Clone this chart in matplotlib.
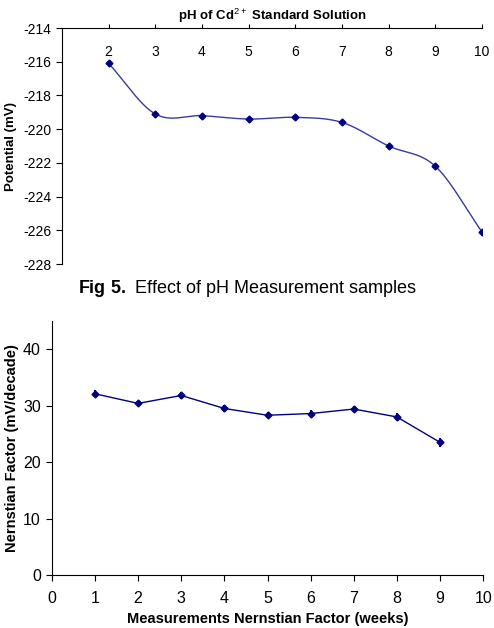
import numpy as np
import matplotlib
matplotlib.use("Agg")
import matplotlib.pyplot as plt

plt.rcParams['font.family'] = ['Liberation Sans', 'DejaVu Sans']
plt.rcParams['mathtext.fontset'] = 'custom'
plt.rcParams['mathtext.rm'] = 'Liberation Sans'
plt.rcParams['mathtext.bf'] = 'Liberation Sans:bold'
plt.rcParams['axes.unicode_minus'] = False

# pH data (top chart)
ph = [2, 3, 4, 5, 6, 7, 8, 9, 10]
potential = [-216.1, -219.1, -219.2, -219.4, -219.3, -219.6, -221.0, -222.2, -226.1]

# Nernstian factor over weeks (bottom chart)
weeks = [1, 2, 3, 4, 5, 6, 7, 8, 9]
nernst = [32.1, 30.4, 31.8, 29.5, 28.3, 28.6, 29.4, 28.0, 23.5]
nernst_err = [0.6, 0.5, 0.6, 0.6, 0.5, 0.6, 0.6, 0.7, 0.8]

navy = '#000080'
line_blue = '#3a3aa0'


# Excel-like smoothed line (Catmull-Rom through the points)
def smooth_line(x, y, n=30):
    x = np.asarray(x, float)
    y = np.asarray(y, float)
    px = np.concatenate([[2 * x[0] - x[1]], x, [2 * x[-1] - x[-2]]])
    py = np.concatenate([[2 * y[0] - y[1]], y, [2 * y[-1] - y[-2]]])
    xs, ys = [], []
    t = np.linspace(0, 1, n)
    for i in range(1, len(px) - 2):
        for arr, out in ((px, xs), (py, ys)):
            p0, p1, p2, p3 = arr[i - 1], arr[i], arr[i + 1], arr[i + 2]
            out.extend(0.5 * ((2 * p1) + (-p0 + p2) * t
                              + (2 * p0 - 5 * p1 + 4 * p2 - p3) * t ** 2
                              + (-p0 + 3 * p1 - 3 * p2 + p3) * t ** 3))
    return xs, ys


fig = plt.figure(figsize=(4.94, 6.28), dpi=100)

# ---- top chart ----
ax1 = fig.add_axes([0.1255, 0.5796, 0.8502, 0.3758])
sx, sy = smooth_line(ph, potential)
ax1.plot(sx, sy, color=line_blue, linewidth=1.0)
ax1.plot(ph, potential, linestyle='none', marker='D', markersize=3.5, color=navy)
ax1.set_xlim(1, 10)
ax1.set_ylim(-228, -214)
ax1.set_yticks(np.arange(-228, -213, 2))
ax1.set_xticks(ph)
ax1.xaxis.set_ticks_position('top')
ax1.tick_params(axis='x', direction='out', length=3, pad=-15, labelsize=10,
                labeltop=True, labelbottom=False)
ax1.tick_params(axis='y', direction='out', length=4, labelsize=10)
for lab in ax1.get_xticklabels():
    lab.set_verticalalignment('top')
ax1.spines['right'].set_visible(False)
ax1.spines['bottom'].set_visible(False)
ax1.set_xlabel('pH of Cd$^{2+}$ Standard Solution', fontsize=9.5, fontweight='bold', labelpad=3)
ax1.xaxis.set_label_position('top')
ax1.set_ylabel('Potential (mV)', fontsize=9.5, fontweight='bold')
ax1.yaxis.set_label_coords(-0.107, 0.5)

# caption
fig.text(0.5, 0.541, r'$\mathbf{Fig\ 5.}$ Effect of pH Measurement samples',
         ha='center', va='center', fontsize=13)

# ---- bottom chart ----
ax2 = fig.add_axes([0.105, 0.0844, 0.873, 0.4045])
ax2.errorbar(weeks, nernst, yerr=nernst_err, color=navy, linewidth=1.0,
             marker='D', markersize=3.5, elinewidth=1.5, capsize=0)
ax2.set_xlim(0, 10)
ax2.set_ylim(0, 45)
ax2.set_xticks(range(0, 11))
ax2.set_yticks(range(0, 41, 10))
ax2.tick_params(direction='out', length=4.5, labelsize=11.5)
ax2.tick_params(axis='x', pad=7)
ax2.spines['right'].set_visible(False)
ax2.spines['top'].set_visible(False)
ax2.set_xlabel('Measurements Nernstian Factor (weeks)', fontsize=10.5, fontweight='bold', labelpad=4)
ax2.set_ylabel('Nernstian Factor (mV/decade)', fontsize=10.5, fontweight='bold')
ax2.yaxis.set_label_coords(-0.077, 0.5)

fig.savefig('out.png', dpi=100)
